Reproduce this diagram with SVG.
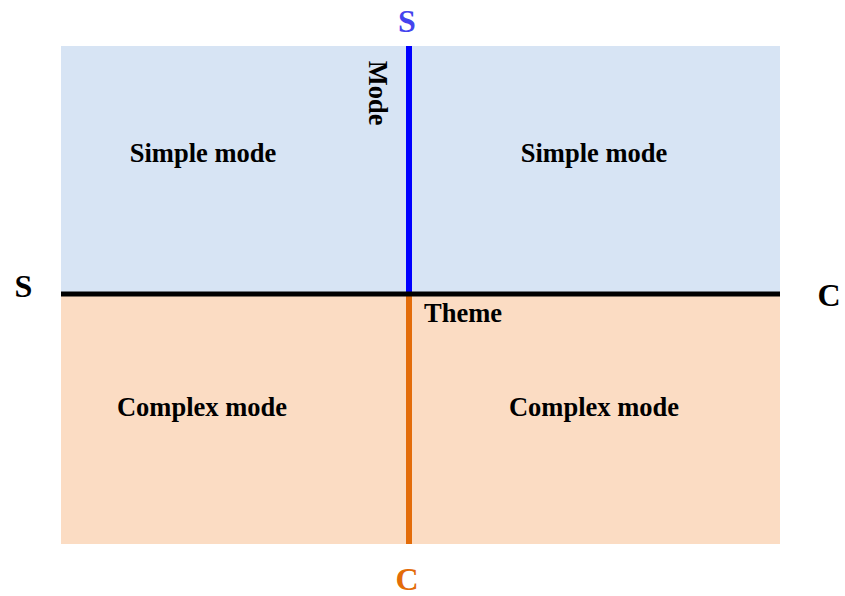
<svg xmlns="http://www.w3.org/2000/svg" width="845" height="596" viewBox="0 0 845 596">
<style>
text{font-family:"Liberation Serif","Times New Roman",serif;font-weight:bold;font-size:26.5px;fill:#000}
.mid{text-anchor:middle}
.big{font-size:32px}
</style>
<rect width="845" height="596" fill="#fff"/>
<g id="quadrants">
<rect x="61" y="46" width="719" height="248" fill="#D7E4F4"/>
<rect x="61" y="294" width="719" height="250" fill="#FBDCC3"/>
</g>
<g id="q-tl"><text class="mid" x="203" y="162">Simple mode</text></g>
<g id="q-tr"><text class="mid" x="594" y="162">Simple mode</text></g>
<g id="q-bl"><text class="mid" x="202" y="416">Complex mode</text></g>
<g id="q-br"><text class="mid" x="594" y="416">Complex mode</text></g>
<g id="connectors">
<line x1="409" y1="46" x2="409" y2="294" stroke="#0000FF" stroke-width="6"/>
<line x1="409" y1="294" x2="409" y2="544" stroke="#E36C09" stroke-width="6"/>
<line x1="61" y1="294" x2="780" y2="294" stroke="#000" stroke-width="5"/>
</g>
<g id="top-label">
<rect x="374" y="0" width="66" height="46" fill="#fff"/>
<text class="mid big" x="407" y="32" style="fill:#4444EE">S</text>
</g>
<g id="bottom-label"><text class="mid big" x="407" y="590" style="fill:#E36C09">C</text></g>
<g id="left-label"><text class="mid big" x="23.5" y="297">S</text></g>
<g id="right-label"><text class="mid big" x="829" y="306">C</text></g>
<g id="axis-mode"><text transform="translate(369,93) rotate(90)" class="mid">Mode</text></g>
<g id="axis-theme"><text x="424" y="322">Theme</text></g>
</svg>
